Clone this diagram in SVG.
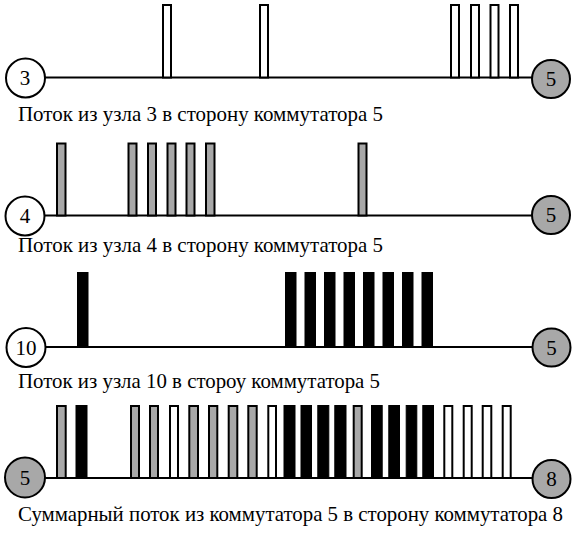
<svg xmlns="http://www.w3.org/2000/svg" width="577" height="553" viewBox="0 0 577 553">
<style>
.bg{fill:#fff}
.link{stroke:#000;stroke-width:2;fill:none}
.node{stroke:#000;stroke-width:2}
.src{fill:#fff}
.sw{fill:#a8a8a8}
.w{fill:#fff;stroke:#000;stroke-width:2}
.g{fill:#a8a8a8;stroke:#000;stroke-width:2}
.b{fill:#000;stroke:#000;stroke-width:1}
text{font-family:'Liberation Serif','DejaVu Serif','Times New Roman',serif;fill:#000}
.num{font-size:21px;text-anchor:middle}
.cap{font-size:21px}
</style>
<rect class="bg" x="0" y="0" width="577" height="553"/>

<g id="connectors">
<line class="link" x1="45" y1="77.5" x2="532" y2="77.5"/>
<line class="link" x1="45" y1="215.5" x2="532" y2="215.5"/>
<line class="link" x1="46" y1="347" x2="532" y2="347"/>
<line class="link" x1="45" y1="478" x2="532" y2="478"/>
</g>

<g id="packets-row1">
<rect class="w" x="163" y="5" width="8" height="72.5"/>
<rect class="w" x="260" y="5" width="8" height="72.5"/>
<rect class="w" x="451" y="5" width="8" height="72.5"/>
<rect class="w" x="471" y="5" width="8" height="72.5"/>
<rect class="w" x="490.5" y="5" width="8" height="72.5"/>
<rect class="w" x="510" y="5" width="8" height="72.5"/>
</g>

<g id="packets-row2">
<rect class="g" x="57" y="143.5" width="8.5" height="72"/>
<rect class="g" x="128.5" y="143.5" width="8" height="72"/>
<rect class="g" x="148" y="143.5" width="8" height="72"/>
<rect class="g" x="167.5" y="143.5" width="8" height="72"/>
<rect class="g" x="186.5" y="143.5" width="8" height="72"/>
<rect class="g" x="206" y="143.5" width="8.5" height="72"/>
<rect class="g" x="358.5" y="143.5" width="8" height="72"/>
</g>

<g id="packets-row3">
<rect class="b" x="77.5" y="272.5" width="10.5" height="74.5"/>
<rect class="b" x="285.5" y="272.5" width="10.5" height="74.5"/>
<rect class="b" x="305" y="272.5" width="10.5" height="74.5"/>
<rect class="b" x="324.5" y="272.5" width="10.5" height="74.5"/>
<rect class="b" x="344" y="272.5" width="10.5" height="74.5"/>
<rect class="b" x="363.5" y="272.5" width="10.5" height="74.5"/>
<rect class="b" x="383" y="272.5" width="10.5" height="74.5"/>
<rect class="b" x="402.5" y="272.5" width="10.5" height="74.5"/>
<rect class="b" x="422" y="272.5" width="10.5" height="74.5"/>
</g>

<g id="packets-row4">
<rect class="g" x="57" y="406" width="8.7" height="72"/>
<rect class="b" x="76" y="405.5" width="11" height="72.5"/>
<rect class="g" x="131" y="406" width="8" height="72"/>
<rect class="g" x="150" y="406" width="8" height="72"/>
<rect class="w" x="170" y="406" width="8" height="72"/>
<rect class="g" x="189.3" y="406" width="8.7" height="72"/>
<rect class="g" x="209" y="406" width="8.3" height="72"/>
<rect class="g" x="228.7" y="406" width="8.6" height="72"/>
<rect class="g" x="248.3" y="406" width="8.4" height="72"/>
<rect class="w" x="268.3" y="406" width="7.7" height="72"/>
<rect class="b" x="284" y="405.5" width="11" height="72.5"/>
<rect class="b" x="301" y="405.5" width="10.5" height="72.5"/>
<rect class="b" x="317.8" y="405.5" width="11" height="72.5"/>
<rect class="b" x="334.8" y="405.5" width="11.2" height="72.5"/>
<rect class="g" x="353.7" y="406" width="8" height="72"/>
<rect class="b" x="371.5" y="405.5" width="10.7" height="72.5"/>
<rect class="b" x="388.8" y="405.5" width="10.7" height="72.5"/>
<rect class="b" x="406.2" y="405.5" width="10.6" height="72.5"/>
<rect class="b" x="422.8" y="405.5" width="10.7" height="72.5"/>
<rect class="w" x="444.3" y="406" width="8" height="72"/>
<rect class="w" x="463.7" y="406" width="8" height="72"/>
<rect class="w" x="482.7" y="406" width="8.6" height="72"/>
<rect class="w" x="502.7" y="406" width="8" height="72"/>
</g>

<g id="node-3"><circle class="node src" cx="25.5" cy="78" r="19.5"/><text class="num" x="25" y="85">3</text></g>
<g id="node-5a"><circle class="node sw" cx="551" cy="79" r="19"/><text class="num" x="551" y="86">5</text></g>
<g id="node-4"><circle class="node src" cx="25" cy="216" r="19.5"/><text class="num" x="25" y="223">4</text></g>
<g id="node-5b"><circle class="node sw" cx="551" cy="215" r="19"/><text class="num" x="551" y="222">5</text></g>
<g id="node-10"><circle class="node src" cx="26" cy="347.5" r="19.5"/><text class="num" x="26" y="354.5">10</text></g>
<g id="node-5c"><circle class="node sw" cx="551.5" cy="347.5" r="19"/><text class="num" x="551.5" y="354.5">5</text></g>
<g id="node-5d"><circle class="node sw" cx="25" cy="477.5" r="20"/><text class="num" x="25" y="484.5">5</text></g>
<g id="node-8"><circle class="node sw" cx="551.5" cy="479" r="19"/><text class="num" x="551.5" y="486">8</text></g>

<g id="captions">
<text class="cap" x="18" y="121" textLength="365" lengthAdjust="spacingAndGlyphs">Поток из узла 3 в сторону коммутатора 5</text>
<text class="cap" x="18" y="252" textLength="365" lengthAdjust="spacingAndGlyphs">Поток из узла 4 в сторону коммутатора 5</text>
<text class="cap" x="18" y="388" textLength="362" lengthAdjust="spacingAndGlyphs">Поток из узла 10 в стороу коммутатора 5</text>
<text class="cap" x="18" y="521" textLength="545" lengthAdjust="spacingAndGlyphs">Суммарный поток из коммутатора 5 в сторону коммутатора 8</text>
</g>
</svg>
